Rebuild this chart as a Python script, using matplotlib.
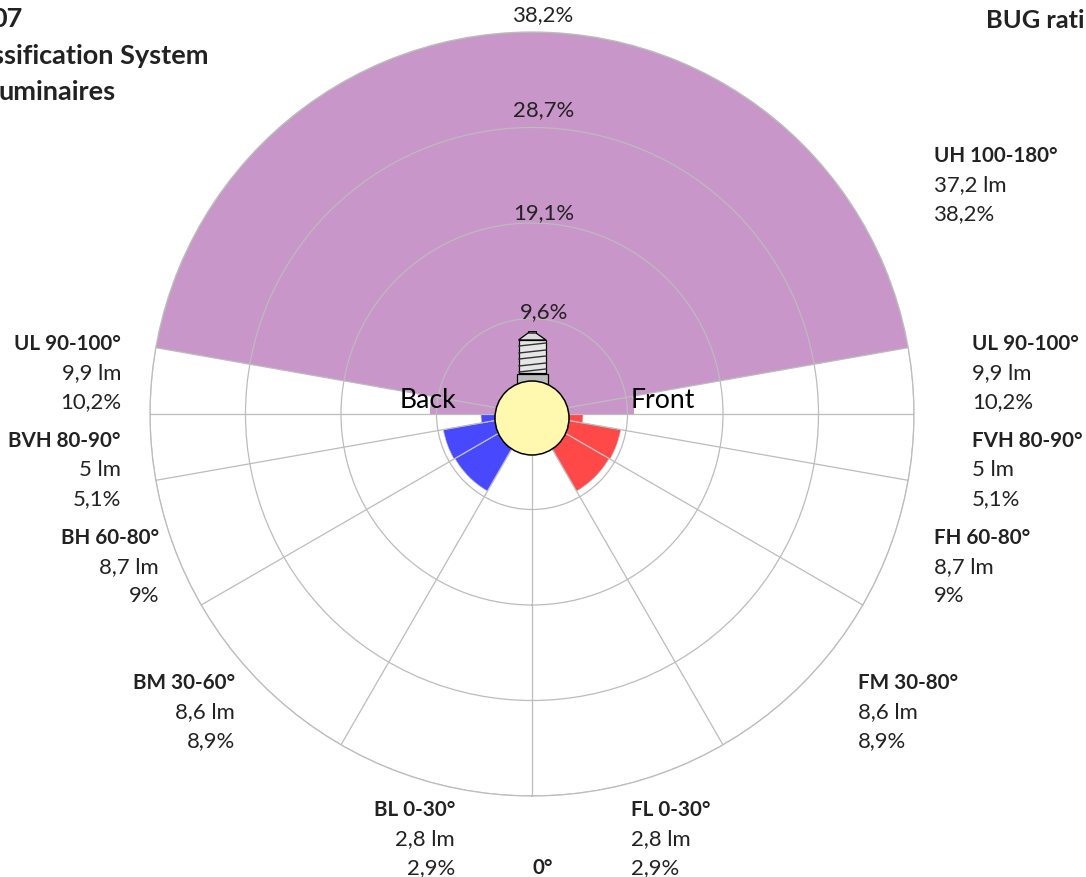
import numpy as np
import matplotlib
matplotlib.use("Agg")
import matplotlib.pyplot as plt
from matplotlib.patches import Circle, Polygon, Rectangle

plt.rcParams["font.family"] = ["Lato", "DejaVu Sans"]

W, H = 1086, 878
CX, CY, R = 532, 415, 382

# zones, measured from nadir on each side
band_start = [0, 30, 60, 80, 90, 100]
band_end = [30, 60, 80, 90, 100, 180]
percent = [2.9, 8.9, 9.0, 5.1, 10.2, 38.2]
front_colors = ["#ff4848", "#ff4848", "#ff4848", "#ff4848", "#c896c8", "#c896c8"]
back_colors = ["#4848ff", "#4848ff", "#4848ff", "#4848ff", "#c896c8", "#c896c8"]
edge_widths = [0.5, 0.5, 0.5, 0.5, 0, 0]

grid_values = [9.55, 19.1, 28.65, 38.2]
grid_labels = ["9,6%", "19,1%", "28,7%", "38,2%"]
grid_label_y = [312, 213, 110, 15]
spoke_angles = [0, 30, 60, 80, 90, 100, 260, 270, 280, 300, 330]

front_names = ["FL 0-30°", "FM 30-80°", "FH 60-80°", "FVH 80-90°", "UL 90-100°", "UH 100-180°"]
back_names = ["BL 0-30°", "BM 30-60°", "BH 60-80°", "BVH 80-90°", "UL 90-100°"]
lumens = ["2,8 lm", "8,6 lm", "8,7 lm", "5 lm", "9,9 lm", "37,2 lm"]
percent_labels = ["2,9%", "8,9%", "9%", "5,1%", "10,2%", "38,2%"]

front_x = [631, 858, 934, 972, 972, 934]
back_x = [455, 235, 159, 121, 121]
label_y = [810, 683, 538, 441, 344, 156]

title_lines = ["07", "ssification System", "uminaires"]
title_right = [23, 209, 116]
title_y = [19, 56, 92]

GRID = "#bcbcbc"
TEXT = "#222222"

fig = plt.figure(figsize=(W / 100, H / 100), dpi=100)

ax = fig.add_axes(
    [(CX - R) / W, (H - CY - R) / H, 2 * R / W, 2 * R / H], projection="polar"
)
ax.set_theta_zero_location("S")
ax.set_ylim(0, grid_values[-1])

for a, b, v, fc, bc, ew in zip(band_start, band_end, percent, front_colors, back_colors, edge_widths):
    mid = np.radians((a + b) / 2)
    width = np.radians(b - a)
    ax.bar(mid, v, width=width, color=fc, edgecolor=GRID, linewidth=ew)
    ax.bar(-mid, v, width=width, color=bc, edgecolor=GRID, linewidth=ew)

ax.set_axisbelow(False)
ax.set_rgrids(grid_values, labels=[])
ax.set_thetagrids(spoke_angles, labels=[])
ax.grid(True, color=GRID, linewidth=0.9)
ax.spines["polar"].set_color(GRID)
ax.spines["polar"].set_linewidth(0.9)

# overlay in pixel coordinates for the lamp and the text
ov = fig.add_axes([0, 0, 1, 1], facecolor="none")
ov.set_xlim(0, W)
ov.set_ylim(H, 0)
ov.axis("off")


def label(x, y, s, **kw):
    kw.setdefault("fontsize", 15.9)
    kw.setdefault("color", TEXT)
    ov.text(x, y, s, va="center", **kw)


for s, y in zip(grid_labels, grid_label_y):
    label(544, y, s, ha="center")

for i, name in enumerate(front_names):
    y = label_y[i]
    label(front_x[i], y, name, ha="left", fontweight="bold", fontsize=14.9)
    label(front_x[i], y + 29, lumens[i], ha="left")
    label(front_x[i], y + 58, percent_labels[i], ha="left")

for i, name in enumerate(back_names):
    y = label_y[i]
    label(back_x[i], y, name, ha="right", fontweight="bold", fontsize=14.9)
    label(back_x[i], y + 29, lumens[i], ha="right")
    label(back_x[i], y + 58, percent_labels[i], ha="right")

label(543, 868, "0°", ha="center", fontweight="bold", fontsize=14.9)
label(456, 401, "Back", ha="right", fontsize=19.2, color="black")
label(631, 401, "Front", ha="left", fontsize=19.2, color="black")

for s, x, y in zip(title_lines, title_right, title_y):
    label(x, y, s, ha="right", fontweight="bold", fontsize=19.5)
label(986, 21, "BUG rati", ha="left", fontweight="bold", fontsize=18.3)

# lamp
ov.add_patch(Rectangle((528, 332), 8, 3, fc="#bcbcbc", ec="black", lw=0.7))
ov.add_patch(Polygon([(518.5, 341), (528, 334), (536, 334), (546, 341)], fc="#dcdcdc", ec="black", lw=0.9))
ov.add_patch(Rectangle((518.5, 341), 27.5, 33, fc="#e6e6e6", ec="black", lw=0.9))
for y0 in [347, 354, 360, 367, 373]:
    ov.plot([519, 546], [y0, y0 - 3], color="#333333", lw=1)
ov.add_patch(Rectangle((516.5, 375), 31, 9.5, fc="#bcbcbc", ec="black", lw=0.9))
ov.add_patch(Circle((532, 419), 37, fc="#fff8ae", ec="black", lw=1.1, zorder=3))

fig.savefig("out.png", dpi=100)
